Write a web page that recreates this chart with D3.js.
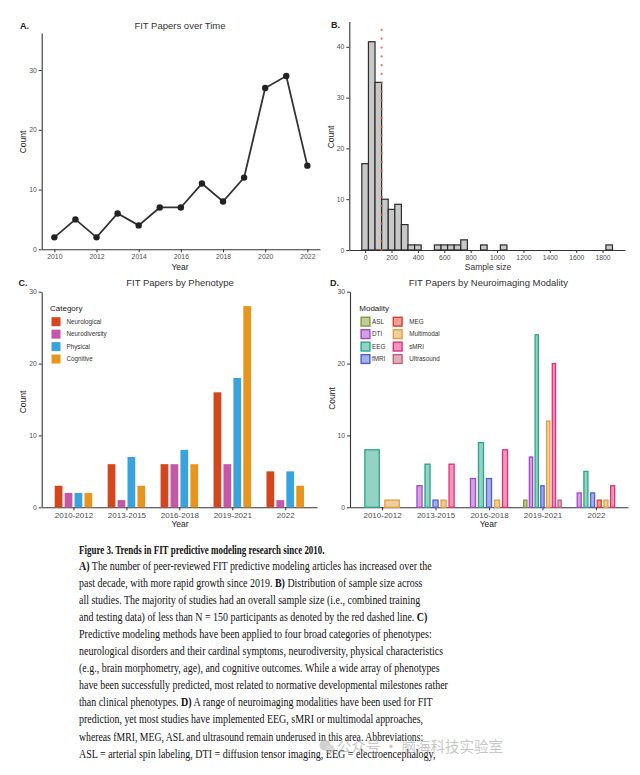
<!DOCTYPE html>
<html>
<head>
<meta charset="utf-8">
<script src="https://cdn.jsdelivr.net/npm/d3@7"></script>
<style>
  body { margin: 0; background: #fff; }
  svg { display: block; font-family: "Liberation Sans", Arial, sans-serif; }
</style>
</head>
<body>
<div id="chart-area"></div>
<script>
// ---- data ----
var years = [2010, 2011, 2012, 2013, 2014, 2015, 2016, 2017, 2018, 2019, 2020, 2021, 2022];
var paperCounts = [2, 5, 2, 6, 4, 7, 7, 11, 8, 12, 27, 29, 14];

// histogram of sample sizes (bin centres, width 50)
var sampleBinCenters = [0, 50, 100, 150, 200, 250, 300, 350, 400, 550, 600, 650, 700, 750, 900, 1050, 1850];
var sampleBinCounts  = [17, 41, 33, 10, 8, 9, 5, 1, 1, 1, 1, 1, 1, 2, 1, 1, 1];
var sampleBinWidth = 50;
var sampleCutoff = 125;

var periods = ["2010-2012", "2013-2015", "2016-2018", "2019-2021", "2022"];

var phenotypes = ["Neurological", "Neurodiversity", "Physical", "Cognitive"];
var neurological   = [3, 6, 6, 16, 5];
var neurodiversity = [2, 1, 6, 6, 1];
var physical       = [2, 7, 8, 18, 5];
var cognitive      = [2, 3, 6, 28, 3];

var modalities = ["ASL", "DTI", "EEG", "fMRI", "MEG", "Multimodal", "sMRI", "Ultrasound"];
var asl        = [0, 0, 0, 1, 0];
var dti        = [0, 3, 4, 7, 2];
var eeg        = [8, 6, 9, 24, 5];
var fmri       = [0, 1, 4, 3, 2];
var meg        = [0, 0, 0, 0, 1];
var multimodal = [1, 1, 1, 12, 1];
var smri       = [0, 6, 8, 20, 3];
var ultrasound = [0, 0, 0, 1, 0];

var yTicksA = [0, 10, 20, 30];
var xTicksA = [2010, 2012, 2014, 2016, 2018, 2020, 2022];
var yTicksB = [0, 10, 20, 30, 40];
var xTicksB = [0, 200, 400, 600, 800, 1000, 1200, 1400, 1600, 1800];
var yTicksCD = [0, 10, 20, 30];

// ---- styles ----
var phenoColors = ["#D4461C", "#C656A8", "#3AA3DE", "#E8951E"];
var modColors = ["#7F9A3A", "#A548C8", "#2AA58A", "#5060D0", "#D84030", "#E0A040", "#E0307A", "#C0607A"];
var tickColor = "#4d4d4d";

var svg = d3.select("#chart-area")
  .append("svg")
    .attr("width", 640)
    .attr("height", 775);

svg.append("rect").attr("width", 640).attr("height", 775).attr("fill", "#fff");

function drawAxes(xScale, yScale, xTickVals, yTickVals, xFont, y0) {
  var xa = svg.append("g")
    .attr("transform", "translate(0," + y0 + ")")
    .call(d3.axisBottom(xScale).tickValues(xTickVals).tickSize(3).tickSizeOuter(0).tickPadding(2)
      .tickFormat(function(d){ return d; }));
  var ya = svg.append("g")
    .attr("transform", "translate(" + xScale.range()[0] + ",0)")
    .call(d3.axisLeft(yScale).tickValues(yTickVals).tickSize(3).tickSizeOuter(0).tickPadding(2));
  [xa, ya].forEach(function(a){
    a.select(".domain").attr("stroke", "#333").attr("stroke-width", 1.1);
    a.selectAll(".tick line").attr("stroke", "#333");
    a.selectAll("text").attr("fill", tickColor).attr("font-family", "Liberation Sans, Arial, sans-serif");
  });
  xa.selectAll("text").attr("font-size", xFont + "px");
  ya.selectAll("text").attr("font-size", "6.8px");
}

function label(x, y, txt, size, opts) {
  opts = opts || {};
  var t = svg.append("text")
    .attr("x", x).attr("y", y)
    .attr("font-size", size + "px")
    .attr("text-anchor", opts.anchor || "middle")
    .attr("fill", opts.fill || "#222")
    .attr("font-weight", opts.bold ? "bold" : "normal")
    .text(txt);
  if (opts.rotate) t.attr("transform", "rotate(-90," + x + "," + y + ")");
  return t;
}

// ================= A. line chart =================
var xA = d3.scaleLinear().domain([2009.4, 2022.6]).range([41.7, 320]);
var yA = d3.scaleLinear().domain([0, 36.2]).range([249.3, 33]);
drawAxes(xA, yA, xTicksA, yTicksA, 6.8, 249.3);

var lineData = years.map(function(y, i){ return {year: y, count: paperCounts[i]}; });
svg.append("path")
  .datum(lineData)
  .attr("fill", "none")
  .attr("stroke", "#333")
  .attr("stroke-width", 1.8)
  .attr("d", d3.line().x(function(d){ return xA(d.year); }).y(function(d){ return yA(d.count); }));
svg.selectAll(".ptA").data(lineData).enter().append("circle")
  .attr("cx", function(d){ return xA(d.year); })
  .attr("cy", function(d){ return yA(d.count); })
  .attr("r", 3.2)
  .attr("fill", "#222");

label(20, 28.5, "A.", 9, {anchor: "start", bold: true});
label(180, 28.5, "FIT Papers over Time", 9.5, {fill: "#333"});
label(180, 270, "Year", 8.5);
label(25.5, 142, "Count", 8.5, {rotate: true});

// ================= B. histogram =================
var xB = d3.scaleLinear().domain([-120, 1970]).range([349.3, 625]);
var yB = d3.scaleLinear().domain([0, 45]).range([250, 21.4]);
drawAxes(xB, yB, xTicksB, yTicksB, 6.8, 250);

var bins = sampleBinCenters.map(function(c, i){ return {c: c, n: sampleBinCounts[i]}; });
svg.selectAll(".binB").data(bins).enter().append("rect")
  .attr("x", function(d){ return xB(d.c - sampleBinWidth / 2); })
  .attr("y", function(d){ return yB(d.n); })
  .attr("width", function(d){ return xB(d.c + sampleBinWidth / 2) - xB(d.c - sampleBinWidth / 2); })
  .attr("height", function(d){ return yB(0) - yB(d.n); })
  .attr("fill", "#c8c8c8")
  .attr("stroke", "#2b2b2b")
  .attr("stroke-width", 1.2);

svg.append("line")
  .attr("x1", xB(sampleCutoff)).attr("x2", xB(sampleCutoff))
  .attr("y1", yB(0)).attr("y2", 22)
  .attr("stroke", "#D2602A")
  .attr("stroke-width", 2.2)
  .attr("stroke-linecap", "round")
  .attr("stroke-dasharray", "0.1,8.7")
  .attr("opacity", 0.8);

label(331, 28, "B.", 9, {anchor: "start", bold: true});
label(488, 270, "Sample size", 8.5, {fill: "#333"});
label(333.5, 137, "Count", 8.5, {rotate: true});

// ================= grouped bars helper =================
function dodge(xScale, values, i) {
  // positions of the non-empty bars in group i, ggplot dodge2-like
  var present = values.map(function(v, k){ return {k: k, v: v[i]}; }).filter(function(d){ return d.v > 0; });
  var W = xScale.step() * 0.75, pad = 0.22;
  var pitch = W / present.length;
  var c = xScale(periods[i]);
  return present.map(function(d, j){
    return {k: d.k, v: d.v, x: c - W / 2 + j * pitch + pitch * pad / 2, w: pitch * (1 - pad)};
  });
}

// ================= C. phenotype bars =================
var xC = d3.scalePoint().domain(periods).range([41.7, 317]).padding(0.6);
var yC = d3.scaleLinear().domain([0, 30]).range([507.3, 291.7]);
drawAxes(xC, yC, periods, yTicksCD, 8, 507.3);

var phenoSeries = [neurological, neurodiversity, physical, cognitive];
periods.forEach(function(p, i){
  svg.selectAll(".barC" + i).data(dodge(xC, phenoSeries, i)).enter().append("rect")
    .attr("x", function(d){ return d.x; })
    .attr("y", function(d){ return yC(d.v); })
    .attr("width", function(d){ return d.w; })
    .attr("height", function(d){ return yC(0) - yC(d.v); })
    .attr("fill", function(d){ return phenoColors[d.k]; });
});

label(18.5, 286, "C.", 9, {anchor: "start", bold: true});
label(180, 286, "FIT Papers by Phenotype", 9.5, {fill: "#333"});
label(180, 526.5, "Year", 8.5);
label(25.5, 402, "Count", 8.5, {rotate: true});

// legend C
label(50, 311, "Category", 8, {anchor: "start"});
phenotypes.forEach(function(name, k){
  var cy = 321.7 + k * 12.45;
  svg.append("rect").attr("x", 51.5).attr("y", cy - 4.5).attr("width", 9).attr("height", 9)
    .attr("fill", phenoColors[k]);
  label(66.5, cy + 2.2, name, 6.3, {anchor: "start", fill: "#333"});
});

// ================= D. modality bars =================
var xD = d3.scalePoint().domain(periods).range([350, 628]).padding(0.6);
var yD = d3.scaleLinear().domain([0, 30]).range([507.3, 291.7]);
drawAxes(xD, yD, periods, yTicksCD, 8, 507.3);

var modSeries = [asl, dti, eeg, fmri, meg, multimodal, smri, ultrasound];
periods.forEach(function(p, i){
  svg.selectAll(".barD" + i).data(dodge(xD, modSeries, i)).enter().append("rect")
    .attr("x", function(d){ return d.x + 0.6; })
    .attr("y", function(d){ return yD(d.v); })
    .attr("width", function(d){ return d.w - 1.2; })
    .attr("height", function(d){ return yD(0) - yD(d.v); })
    .attr("fill", function(d){ return modColors[d.k]; })
    .attr("fill-opacity", 0.5)
    .attr("stroke", function(d){ return modColors[d.k]; })
    .attr("stroke-width", 1.3);
});

label(330, 286, "D.", 9, {anchor: "start", bold: true});
label(488.3, 286, "FIT Papers by Neuroimaging Modality", 9.5, {fill: "#333"});
label(488.3, 526.5, "Year", 8.5);
label(334.5, 398.5, "Count", 8.5, {rotate: true});

// legend D (two columns)
label(359.3, 311, "Modality", 8, {anchor: "start"});
modalities.forEach(function(name, k){
  var col = Math.floor(k / 4), row = k % 4;
  var kx = col === 0 ? 360.5 : 392.7;
  var cy = 321.7 + row * 12.45;
  svg.append("rect").attr("x", kx + 0.6).attr("y", cy - 4.4).attr("width", 8.8).attr("height", 8.8)
    .attr("fill", modColors[k]).attr("fill-opacity", 0.5)
    .attr("stroke", modColors[k]).attr("stroke-width", 1.4);
  label(kx + (col === 0 ? 11.5 : 16.5), cy + 2.2, name, 6.3, {anchor: "start", fill: "#333"});
});

// ================= caption =================
var captionLines = [
  [["Figure 3. Trends in FIT predictive modeling research since 2010.", true]],
  [["A)", true], [" The number of peer-reviewed FIT predictive modeling articles has increased over the", false]],
  [["past decade, with more rapid growth since 2019. ", false], ["B)", true], [" Distribution of sample size across", false]],
  [["all studies. The majority of studies had an overall sample size (i.e., combined training", false]],
  [["and testing data) of less than N = 150 participants as denoted by the red dashed line. ", false], ["C)", true]],
  [["Predictive modeling methods have been applied to four broad categories of phenotypes:", false]],
  [["neurological disorders and their cardinal symptoms, neurodiversity, physical characteristics", false]],
  [["(e.g., brain morphometry, age), and cognitive outcomes. While a wide array of phenotypes", false]],
  [["have been successfully predicted, most related to normative developmental milestones rather", false]],
  [["than clinical phenotypes. ", false], ["D)", true], [" A range of neuroimaging modalities have been used for FIT", false]],
  [["prediction, yet most studies have implemented EEG, sMRI or multimodal approaches,", false]],
  [["whereas fMRI, MEG, ASL and ultrasound remain underused in this area. Abbreviations:", false]],
  [["ASL = arterial spin labeling, DTI = diffusion tensor imaging, EEG = electroencephalogy,", false]]
];
var lineEnds = [325, 431.7, 422.7, 420.7, 427.7, 432, 443.3, 440, 448.3, 433.3, 423.3, 423.3, 435.7];

captionLines.forEach(function(parts, i){
  var y = i === 0 ? 554 : 569.5 + (i - 1) * 17.1;
  var t = svg.append("text")
    .attr("x", 0)
    .attr("y", 0)
    .attr("font-family", "Liberation Serif, 'Times New Roman', serif")
    .attr("font-size", "13.5px")
    .attr("fill", "#111");
  parts.forEach(function(p){
    t.append("tspan").attr("font-weight", p[1] ? "bold" : "normal").text(p[0]);
  });
  // squeeze each line horizontally to the width seen in the figure
  var natural = t.node().getComputedTextLength();
  var sx = (lineEnds[i] - 79) / natural;
  t.attr("transform", "translate(79," + y + ") scale(" + sx + ",1)");
});

// watermark
var wm = svg.append("g").attr("opacity", 0.55);
wm.append("circle").attr("cx", 325).attr("cy", 745).attr("r", 5.5).attr("fill", "#aaa");
wm.append("circle").attr("cx", 330).attr("cy", 749).attr("r", 4.5).attr("fill", "#bbb");
var wt = wm.append("text")
  .attr("x", 0).attr("y", 0)
  .attr("font-family", "'Noto Sans CJK SC', sans-serif")
  .attr("font-size", "15px")
  .attr("fill", "#999")
  .text("公众号 · 脑海科技实验室");
var wsx = 166 / wt.node().getComputedTextLength();
wt.attr("transform", "translate(337,752) scale(" + wsx + ",1)");
</script>
</body>
</html>
